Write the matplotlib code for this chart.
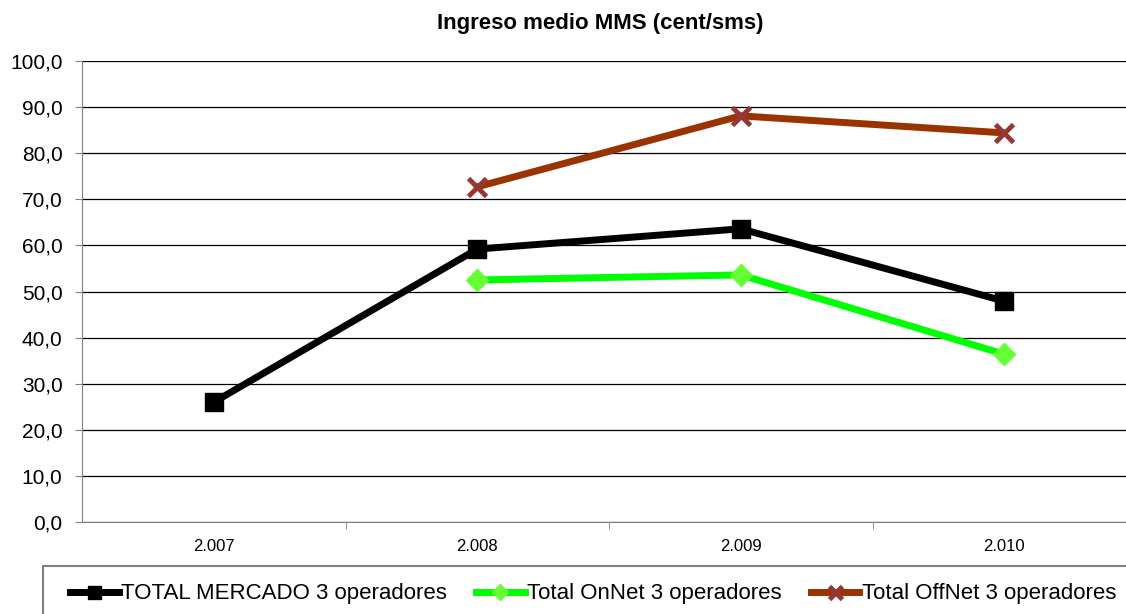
import matplotlib.pyplot as plt
from matplotlib.patches import Rectangle
import numpy as np

years = ['2.007', '2.008', '2.009', '2.010']
total = [26.0, 59.2, 63.6, 47.9]
onnet = [np.nan, 52.5, 53.6, 36.4]
offnet = [np.nan, 72.7, 88.1, 84.4]

plt.rcParams['font.family'] = ['Liberation Sans', 'DejaVu Sans']

fig = plt.figure(figsize=(11.26, 6.14), dpi=100)
# plot area runs a little past the right edge, as in the reference
ax = fig.add_axes([82 / 1126, 1 - 522 / 614, 1054 / 1126, 461 / 614])

x = np.arange(len(years))
ax.plot(x, total, color='black', lw=5, marker='s', ms=13, mfc='black', mec='black',
        label='TOTAL MERCADO 3 operadores', zorder=3)
ax.plot(x, onnet, color='#00ff00', lw=5, marker='D', ms=11, mfc='#66ff33', mec='#66ff33',
        label='Total OnNet 3 operadores', zorder=3)
ax.plot(x, offnet, color='#993300', lw=5, marker='x', ms=13, mew=3.5, mec='#953735',
        label='Total OffNet 3 operadores', zorder=3)

ax.set_xlim(-0.5, 3.5)
ax.set_ylim(0, 100)
ax.set_yticks(np.arange(0, 101, 10))
ax.set_yticklabels([f'{v},0' for v in range(0, 101, 10)], fontsize=15)
ax.set_xticks(x)
ax.set_xticklabels(years, fontsize=12)
ax.set_xticks([0.5, 1.5, 2.5], minor=True)
ax.tick_params(axis='x', which='major', length=0, pad=12)
ax.tick_params(axis='x', which='minor', length=5, direction='out', color='#808080')
ax.tick_params(axis='y', length=5, direction='out', color='#808080', pad=9)
ax.grid(axis='y', color='black', lw=0.9)
ax.set_axisbelow(True)
for s in ['top', 'right']:
    ax.spines[s].set_visible(False)
ax.spines['left'].set_color('#808080')
ax.spines['bottom'].set_color('#808080')

fig.text(600 / 1126, 1 - 23 / 614, 'Ingreso medio MMS (cent/sms)', ha='center', va='center',
         fontsize=16, fontweight='bold')

# legend box runs off the right and bottom edges
fig.patches.append(Rectangle((43 / 1126, -0.05), 1.1, 0.05 + 48 / 614, transform=fig.transFigure,
                             fill=False, edgecolor='#808080', lw=1.5))
leg = fig.legend(loc='center left', bbox_to_anchor=(70 / 1126, 1 - 594 / 614), ncol=3,
                 fontsize=16, frameon=False, handlelength=2.2, handletextpad=0.1,
                 columnspacing=1.3, borderpad=0, borderaxespad=0, markerscale=0.72)

fig.savefig('out.png', dpi=100)
